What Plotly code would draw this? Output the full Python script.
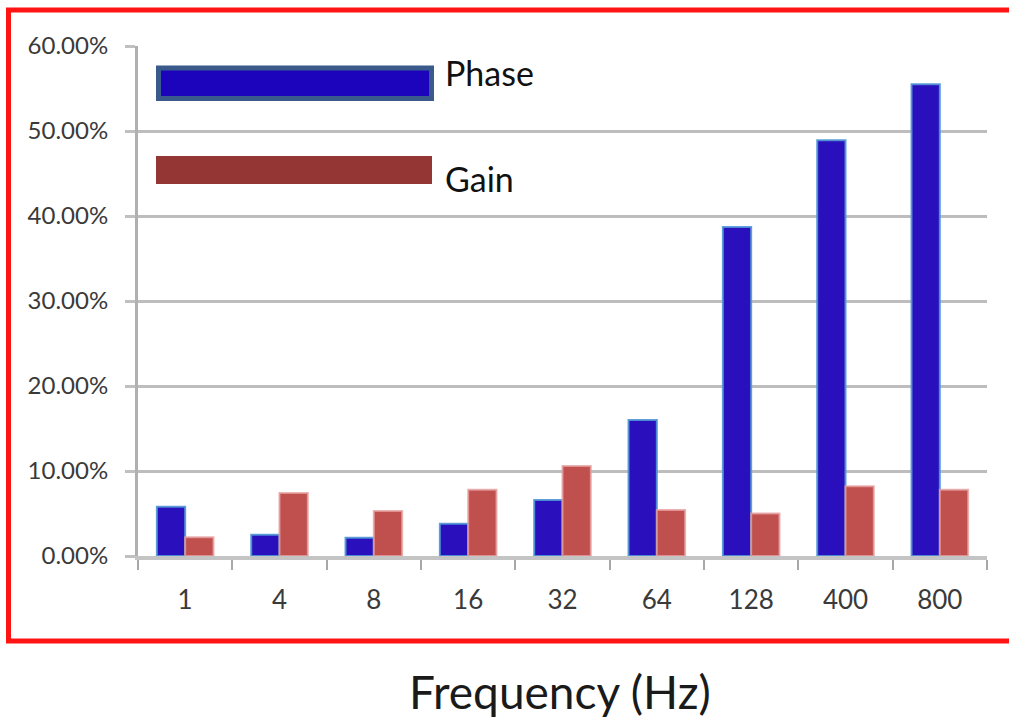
import plotly.graph_objects as go

# Data: relative error (%) per excitation frequency
frequencies = ["1", "4", "8", "16", "32", "64", "128", "400", "800"]
series_names = ["Phase", "Gain"]
phase_pct = [5.8, 2.5, 2.15, 3.8, 6.6, 16.0, 38.7, 48.9, 55.5]
gain_pct = [2.2, 7.4, 5.3, 7.8, 10.6, 5.4, 5.0, 8.2, 7.8]
y_ticks = [0, 10, 20, 30, 40, 50, 60]
y_tick_labels = [f"{v:.2f}%" for v in y_ticks]
x_title = "Frequency (Hz)"

W, H = 1009, 720
L, R, T, B = 138, 22, 46, 164
PW, PH = W - L - R, H - T - B

FONT = "Lato, Open Sans, sans-serif"


def px(x):
    return (x - L) / PW


def py(y):
    return (H - B - y) / PH


fig = go.Figure()
fig.add_trace(go.Bar(
    x=frequencies, y=phase_pct, name=series_names[0],
    marker=dict(color="#2a10bc", line=dict(color="rgba(80,150,215,0.9)", width=2)),
))
fig.add_trace(go.Bar(
    x=frequencies, y=gain_pct, name=series_names[1],
    marker=dict(color="#c0504d", line=dict(color="rgba(230,160,160,0.8)", width=2)),
))

fig.update_layout(
    width=W, height=H,
    margin=dict(l=L, r=R, t=T, b=B, pad=0),
    paper_bgcolor="white", plot_bgcolor="white",
    barmode="group", bargap=0.4, bargroupgap=0,
    showlegend=False,
    font=dict(family=FONT, color="#3a3a3a"),
)

fig.update_xaxes(
    type="category",
    showline=True, linecolor="#c4c4c4", linewidth=4,
    ticks="outside", tickson="boundaries", ticklen=10, tickwidth=2, tickcolor="#a8a8a8",
    tickfont=dict(size=26, color="#3a3a3a"),
    ticklabelstandoff=18,
    showgrid=False, zeroline=False,
)
fig.update_yaxes(
    range=[0, 60], tickvals=y_ticks, ticktext=y_tick_labels,
    showgrid=True, gridcolor="#bdbdbd", gridwidth=3,
    showline=True, linecolor="#b0b0b0", linewidth=3,
    ticks="outside", ticklen=10, tickwidth=3, tickcolor="#c0c0c0",
    tickfont=dict(size=24, color="#3a3a3a"),
    ticklabelstandoff=12,
    zeroline=False,
)

shapes = [
    # outer red frame
    dict(type="rect", xref="paper", yref="paper",
         x0=px(8.5), x1=px(1020), y0=py(641), y1=py(10),
         line=dict(color="#ff1414", width=5), fillcolor="rgba(0,0,0,0)", layer="above"),
    # legend swatches
    dict(type="rect", xref="paper", yref="paper",
         x0=px(158.5), x1=px(431.5), y0=py(98.5), y1=py(68),
         line=dict(color="#3b5a8c", width=5), fillcolor="#1c04bc", layer="above"),
    dict(type="rect", xref="paper", yref="paper",
         x0=px(156), x1=px(432), y0=py(184), y1=py(156),
         line=dict(width=0), fillcolor="#943634", layer="above"),
]

annotations = [
    dict(text=series_names[0], xref="paper", yref="paper", x=px(443), y=py(72),
         xanchor="left", yanchor="middle", showarrow=False,
         font=dict(size=34, color="#111111", family=FONT)),
    dict(text=series_names[1], xref="paper", yref="paper", x=px(443), y=py(179),
         xanchor="left", yanchor="middle", showarrow=False,
         font=dict(size=34, color="#111111", family=FONT)),
    dict(text=x_title, xref="paper", yref="paper", x=px(560), y=py(691),
         xanchor="center", yanchor="middle", showarrow=False,
         font=dict(size=46, color="#1a1a1a", family=FONT)),
]

fig.update_layout(shapes=shapes, annotations=annotations)
fig.write_html("out.html")
